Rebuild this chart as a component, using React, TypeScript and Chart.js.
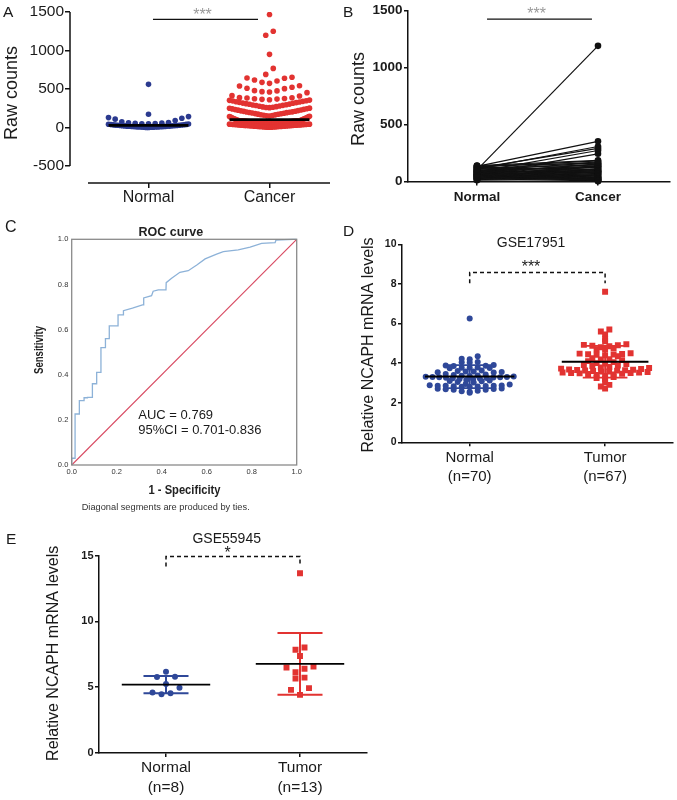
import React, { useEffect, useRef } from 'react';
import { Chart, registerables } from 'chart.js';

Chart.register(...registerables);

const FONT = '"Liberation Sans", Arial, Helvetica, sans-serif';
Chart.defaults.font.family = FONT;
Chart.defaults.color = '#1a1a1a';

const BLUE_A = '#2b3a8f';
const BLUE = '#2f4899';
const RED = '#e23331';
const INK = '#111111';

// ---------- Panel A: raw counts, unpaired ----------
const groupsA = ['Normal', 'Cancer'];
const yTicksA = [-500, 0, 500, 1000, 1500];
const normalA = [561, 173, 142, 129, 121, 109, 90, 73, 66, 62, 57, 55, 51, 49, 47, 45, 43, 41, 38, 37, 35, 33, 31, 30, 29, 27, 26, 24, 23, 22, 21, 19, 18, 17, 16, 15, 14, 12, 12, 11, 9, 8, 8, 7, 6, 5, 4, 3, 2, 1];
const cancerOutliersA = [1467, 1250, 1199, 950, 768, 690, 652, 643, 639, 617, 604, 587, 574, 543, 539, 523, 510, 505, 479, 476, 466, 462, 453, 414, 410, 388];
const cancerBulkA = [
  386, 383, 377, 374, 369, 366, 360, 356, 353, 347, 344, 340, 334, 331, 326,
  323, 317, 315, 310, 304, 302, 296, 293, 288, 286, 279, 277, 271, 268, 263, 261,
  258, 252, 250, 244, 242, 236, 233, 228, 226, 220, 217, 212, 210, 204, 201, 198, 196,
  193, 188, 186, 181, 179, 174, 172, 167, 165, 159, 157, 152, 150, 145, 143, 138, 136, 131,
  128, 124, 121, 118, 114, 111, 107, 104, 101, 98, 95, 92,
  90, 89, 89, 88, 87, 87, 86, 85, 84, 84, 83, 82, 81, 81, 80, 79, 78, 78, 77, 76, 75, 75, 74, 73, 72, 71, 71, 70, 69, 68, 68, 67, 66, 65,
  64, 63, 62, 62, 60, 59, 58, 57, 56, 55, 54, 52, 52, 51, 50, 48, 48, 47, 46, 44, 44, 43, 42, 41, 39, 38, 38, 37, 36, 34, 34, 33,
  32, 30, 30, 29, 28, 27, 26, 25, 24, 23, 22, 21, 20, 19, 18, 17, 16, 15, 14, 13, 12, 11, 10, 9, 8, 7, 6, 5, 4, 3,
];

// ---------- Panel B: raw counts, paired ----------
const groupsB = ['Normal', 'Cancer'];
const yTicksB = [0, 500, 1000, 1500];
const pairedNormalB = [102, 132, 108, 118, 86, 62, 140, 126, 112, 96, 136, 71, 82, 116, 52, 91, 41, 66, 99, 31, 76, 57, 121, 46, 84, 21, 61, 36, 94, 26, 69, 49, 16, 39, 79, 29, 58, 19, 44, 11, 34, 54, 24, 64, 128, 106, 138, 88];
const pairedCancerB = [1190, 352, 307, 290, 272, 243, 186, 181, 171, 166, 161, 154, 149, 146, 139, 134, 131, 127, 121, 114, 109, 104, 98, 95, 91, 87, 84, 79, 76, 71, 66, 61, 56, 49, 46, 41, 36, 31, 26, 19, 16, 11, 6, 2, 22, 13, 30, 8];

// ---------- Panel C: ROC ----------
const rocTicks = [0, 0.2, 0.4, 0.6, 0.8, 1.0];
const rocFpr = [0, 0, 0.015, 0.015, 0.034, 0.034, 0.055, 0.055, 0.07, 0.07, 0.092, 0.092, 0.111, 0.111, 0.13, 0.13, 0.15, 0.15, 0.167, 0.167, 0.206, 0.206, 0.23, 0.23, 0.27, 0.318, 0.32, 0.355, 0.362, 0.385, 0.419, 0.42, 0.444, 0.481, 0.518, 0.556, 0.593, 0.644, 0.674, 0.74, 0.793, 0.844, 0.904, 0.908, 0.985, 1];
const rocTpr = [0, 0.03, 0.03, 0.226, 0.226, 0.285, 0.285, 0.298, 0.298, 0.3, 0.3, 0.36, 0.36, 0.41, 0.41, 0.52, 0.52, 0.56, 0.56, 0.616, 0.616, 0.665, 0.665, 0.684, 0.695, 0.71, 0.74, 0.75, 0.77, 0.776, 0.776, 0.808, 0.827, 0.854, 0.861, 0.886, 0.913, 0.934, 0.945, 0.953, 0.965, 0.982, 0.985, 0.997, 1.0, 1.0];

// ---------- Panel D: GSE17951 ----------
const groupsD = [['Normal', '(n=70)'], ['Tumor', '(n=67)']];
const yTicksD = [0, 2, 4, 6, 8, 10];
const normalD = [6.25, 4.35, 4.22, 4.2, 4.05, 4.04, 4.03, 3.9, 3.88, 3.86, 3.85, 3.78, 3.77, 3.76, 3.75, 3.74, 3.62, 3.6, 3.58, 3.57, 3.55, 3.54, 3.52, 3.45, 3.42, 3.4, 3.38, 3.36, 3.35, 3.32, 3.31, 3.3, 3.3, 3.29, 3.28, 3.27, 3.26, 3.25, 3.24, 3.22, 3.2, 3.18, 3.15, 3.12, 3.1, 3.08, 3.05, 3.02, 2.95, 2.92, 2.88, 2.87, 2.86, 2.85, 2.85, 2.84, 2.83, 2.82, 2.81, 2.8, 2.72, 2.7, 2.69, 2.68, 2.66, 2.65, 2.6, 2.58, 2.55, 2.5];
const tumorD = [7.6, 5.7, 5.6, 5.45, 5.2, 5.1, 4.95, 4.92, 4.9, 4.88, 4.85, 4.8, 4.75, 4.7, 4.7, 4.5, 4.48, 4.46, 4.45, 4.43, 4.42, 4.4, 4.35, 4.25, 4.2, 4.18, 4.15, 4.1, 4.05, 4.0, 3.98, 3.95, 3.9, 3.88, 3.85, 3.8, 3.78, 3.75, 3.72, 3.7, 3.68, 3.66, 3.65, 3.64, 3.63, 3.62, 3.6, 3.58, 3.57, 3.55, 3.53, 3.52, 3.5, 3.5, 3.48, 3.46, 3.45, 3.42, 3.4, 3.35, 3.3, 3.25, 3.2, 3.05, 2.9, 2.82, 2.72];

// ---------- Panel E: GSE55945 ----------
const groupsE = [['Normal', '(n=8)'], ['Tumor', '(n=13)']];
const yTicksE = [0, 5, 10, 15];
const normalE = [6.17, 5.78, 5.8, 5.25, 4.97, 4.6, 4.47, 4.55];
const tumorE = [13.66, 7.85, 8.02, 7.38, 6.4, 6.5, 6.57, 5.73, 5.67, 6.14, 4.93, 4.8, 4.42];

// ---------- helpers ----------
const mean = (a: number[]) => a.reduce((s, v) => s + v, 0) / a.length;
const sd = (a: number[]) => {
  const m = mean(a);
  return Math.sqrt(a.reduce((s, v) => s + (v - m) * (v - m), 0) / (a.length - 1));
};
const median = (a: number[]) => {
  const s = [...a].sort((x, y) => x - y);
  const n = s.length;
  return n % 2 ? s[(n - 1) / 2] : (s[n / 2 - 1] + s[n / 2]) / 2;
};
const f = (size: number, bold = false) => `${bold ? 'bold ' : ''}${size}px ${FONT}`;

function fixBox(size: number) {
  return (s: any) => {
    if (s.isHorizontal()) s.height = size;
    else s.width = size;
    s.paddingTop = 0;
    s.paddingBottom = 0;
    s.paddingLeft = 0;
    s.paddingRight = 0;
  };
}

function axis(o: {
  min: number; max: number; ticks: number[]; size: number; font: any; pad: number; tickLen: number;
  border: boolean; labels?: any[]; fmt?: (v: number) => string; color?: string;
}) {
  return {
    type: 'linear',
    min: o.min,
    max: o.max,
    bounds: 'data',
    afterBuildTicks: (s: any) => { s.ticks = o.ticks.map((v) => ({ value: v })); },
    afterFit: fixBox(o.size),
    border: { display: o.border, color: INK, width: 1.5 },
    grid: { display: true, drawOnChartArea: false, drawTicks: o.tickLen > 0, tickLength: o.tickLen, color: INK, lineWidth: 1.5 },
    ticks: {
      font: o.font,
      color: o.color || '#1a1a1a',
      padding: o.pad,
      autoSkip: false,
      maxRotation: 0,
      minRotation: 0,
      callback: o.labels ? (_v: any, i: number) => o.labels![i] : (v: any) => (o.fmt ? o.fmt(Number(v)) : String(v)),
    },
  };
}

const common = {
  animation: false,
  responsive: false,
  devicePixelRatio: 1,
  events: [],
  plugins: { legend: { display: false }, tooltip: { enabled: false }, title: { display: false } },
};

const lineDs = (data: any[], color: string, width: number) => ({
  type: 'line', data, borderColor: color, borderWidth: width, pointRadius: 0, fill: false, tension: 0, order: 0, clip: false, spanGaps: false,
});
const dotDs = (values: number[], c: number, color: string, style: string, r: number) => ({
  type: 'scatter', data: values.map((v) => ({ x: c, y: v })), backgroundColor: color, pointBackgroundColor: color,
  borderWidth: 0, pointBorderWidth: 0, pointRadius: r, pointStyle: style, order: 1,
});

function sdBars(values: number[], c: number, cap: number) {
  const m = mean(values), s = sd(values);
  return [
    { x: c - cap, y: m + s }, { x: c + cap, y: m + s }, { x: c, y: null },
    { x: c, y: m + s }, { x: c, y: m - s }, { x: c, y: null },
    { x: c - cap, y: m - s }, { x: c + cap, y: m - s },
  ];
}
function meanBar(values: number[], c: number, half: number) {
  const m = mean(values);
  return [{ x: c - half, y: m }, { x: c + half, y: m }];
}

// beeswarm-style layout: rows by pixel bin, spread centre-out, compressed to max width
function swarm(chart: any, values: number[], center: number, spacing: number, bin: number, maxHalf: number) {
  const xs = chart.scales.x, ys = chart.scales.y;
  const pxPerUnit = xs.getPixelForValue(center + 1) - xs.getPixelForValue(center);
  const rows = new Map<number, number[]>();
  values.forEach((v) => {
    const k = Math.round(ys.getPixelForValue(v) / bin);
    if (!rows.has(k)) rows.set(k, []);
    rows.get(k)!.push(v);
  });
  const pts: { x: number; y: number }[] = [];
  rows.forEach((row) => {
    row.sort((a, b) => a - b);
    const n = row.length;
    const step = n > 1 ? Math.min(spacing, (2 * maxHalf) / (n - 1)) : 0;
    const slots = row.map((_, i) => (i - (n - 1) / 2) * step).sort((a, b) => Math.abs(a) - Math.abs(b) || a - b);
    row.forEach((v, i) => pts.push({ x: center + slots[i] / pxPerUnit, y: v }));
  });
  return pts;
}

type TextOpt = { font: string; color?: string; align?: CanvasTextAlign; baseline?: CanvasTextBaseline; rotate?: number; maxWidth?: number };
function drawText(ctx: CanvasRenderingContext2D, s: string, x: number, y: number, o: TextOpt) {
  ctx.save();
  ctx.font = o.font;
  ctx.fillStyle = o.color || '#1a1a1a';
  ctx.textAlign = o.align || 'center';
  ctx.textBaseline = o.baseline || 'alphabetic';
  ctx.translate(x, y);
  if (o.rotate) ctx.rotate(o.rotate);
  if (o.maxWidth) ctx.fillText(s, 0, 0, o.maxWidth);
  else ctx.fillText(s, 0, 0);
  ctx.restore();
}
function seg(ctx: CanvasRenderingContext2D, pts: number[][], color: string, width: number, dash: number[] = []) {
  ctx.save();
  ctx.strokeStyle = color;
  ctx.lineWidth = width;
  ctx.setLineDash(dash);
  ctx.beginPath();
  pts.forEach((p, i) => (i ? ctx.lineTo(p[0], p[1]) : ctx.moveTo(p[0], p[1])));
  ctx.stroke();
  ctx.restore();
}

// ---------- builders ----------
function buildA(el: HTMLCanvasElement) {
  const cancerA = [...cancerOutliersA, ...cancerBulkA];
  const mN = median(normalA), mC = median(cancerA);
  const ch: any = new Chart(el, {
    type: 'scatter',
    data: {
      datasets: [
        lineDs([{ x: 0.67, y: mN }, { x: 1.33, y: mN }], '#000', 2.6),
        lineDs([{ x: 1.67, y: mC }, { x: 2.33, y: mC }], '#000', 2.6),
        dotDs(normalA, 1, BLUE_A, 'circle', 2.8),
        dotDs(cancerA, 2, RED, 'circle', 2.8),
      ] as any,
    },
    options: {
      ...common,
      layout: { padding: { left: 0, top: 12, right: 10, bottom: 0 } },
      scales: {
        x: axis({ min: 0.3512, max: 2.5, ticks: [1, 2], size: 27, font: { size: 16 }, pad: 0, tickLen: 5, border: false, labels: groupsA }),
        y: axis({ min: -720, max: 1500, ticks: yTicksA, size: 70, font: { size: 15.5 }, pad: 1, tickLen: 5, border: false }),
      },
    } as any,
    plugins: [{
      id: 'decoA',
      afterDraw(c: any) {
        const { ctx, chartArea: a, scales: { x, y } } = c;
        seg(ctx, [[a.left, y.getPixelForValue(-500)], [a.left, y.getPixelForValue(1500)]], INK, 1.5);
        seg(ctx, [[x.getPixelForValue(0.5), a.bottom], [x.getPixelForValue(2.5), a.bottom]], INK, 1.5);
        seg(ctx, [[x.getPixelForValue(1.037), y.getPixelForValue(1405)], [x.getPixelForValue(1.905), y.getPixelForValue(1405)]], INK, 1.3);
        drawText(ctx, '***', 202.5, 19.5, { font: f(16), color: '#9a9a9a' });
        drawText(ctx, 'A', 3, 17, { font: f(15.5), align: 'left' });
        drawText(ctx, 'Raw counts', 12, 93, { font: f(18), rotate: -Math.PI / 2, baseline: 'middle' });
      },
    }],
  });
  ch.data.datasets[2].data = swarm(ch, normalA, 1, 7.5, 8, 40);
  ch.data.datasets[3].data = swarm(ch, cancerA, 2, 7.5, 8, 40);
  ch.update('none');
  return ch;
}

function buildB(el: HTMLCanvasElement) {
  const datasets = pairedNormalB.map((n, i) => ({
    type: 'line',
    data: [{ x: 1, y: n }, { x: 2, y: pairedCancerB[i] }],
    borderColor: INK, borderWidth: 1.2, pointRadius: 3.3, pointBackgroundColor: INK, pointBorderWidth: 0,
    fill: false, tension: 0, clip: false,
  }));
  return new Chart(el, {
    type: 'scatter',
    data: { datasets: datasets as any },
    options: {
      ...common,
      layout: { padding: { left: 0, top: 10.5, right: 7, bottom: 0 } },
      scales: {
        x: axis({ min: 0.4298, max: 2.595, ticks: [1, 2], size: 28.5, font: { size: 13.5, weight: 'bold' }, pad: 3.4, tickLen: 4, border: true, labels: groupsB }),
        y: axis({ min: 0, max: 1500, ticks: yTicksB, size: 68, font: { size: 13.5, weight: 'bold' }, pad: 1.5, tickLen: 4, border: true }),
      },
    } as any,
    plugins: [{
      id: 'decoB',
      afterDraw(c: any) {
        const { ctx, scales: { x, y } } = c;
        seg(ctx, [[x.getPixelForValue(1.083), y.getPixelForValue(1425)], [x.getPixelForValue(1.95), y.getPixelForValue(1425)]], INK, 1.3);
        drawText(ctx, '***', 196.7, 19, { font: f(16), color: '#9a9a9a' });
        drawText(ctx, 'B', 3, 17, { font: f(15.5), align: 'left' });
        drawText(ctx, 'Raw counts', 19, 99, { font: f(18), rotate: -Math.PI / 2, baseline: 'middle' });
      },
    }],
  });
}

function buildC(el: HTMLCanvasElement) {
  return new Chart(el, {
    type: 'scatter',
    data: {
      datasets: [
        lineDs(rocFpr.map((v, i) => ({ x: v, y: rocTpr[i] })), '#8db2d8', 1.3),
        lineDs([{ x: 0, y: 0 }, { x: 1, y: 1 }], '#d84a62', 1.1),
      ] as any,
    },
    options: {
      ...common,
      layout: { padding: { left: 0, top: 29.3, right: 43.3, bottom: 0 } },
      scales: {
        x: axis({ min: 0, max: 1, ticks: rocTicks, size: 55, font: { size: 7.5 }, pad: 2.2, tickLen: 0, border: false, fmt: (v) => v.toFixed(1), color: '#333' }),
        y: axis({ min: 0, max: 1, ticks: rocTicks, size: 71.7, font: { size: 7.5 }, pad: 3.4, tickLen: 0, border: false, fmt: (v) => v.toFixed(1), color: '#333' }),
      },
    } as any,
    plugins: [{
      id: 'decoC',
      afterDraw(c: any) {
        const { ctx, chartArea: a } = c;
        ctx.save();
        ctx.strokeStyle = '#8a8a8a';
        ctx.lineWidth = 1.3;
        ctx.strokeRect(a.left, a.top, a.right - a.left, a.bottom - a.top);
        ctx.restore();
        drawText(ctx, 'C', 5, 21.7, { font: f(16), align: 'left' });
        drawText(ctx, 'ROC curve', 170.8, 26, { font: f(12.5, true), color: '#222' });
        drawText(ctx, 'Sensitivity', 40, 140, { font: f(12.5, true), rotate: -Math.PI / 2, baseline: 'middle', maxWidth: 48, color: '#222' });
        drawText(ctx, '1 - Specificity', 184.5, 280, { font: f(13, true), baseline: 'middle', maxWidth: 72, color: '#222' });
        drawText(ctx, 'Diagonal segments are produced by ties.', 165.7, 297.5, { font: f(9.5), baseline: 'middle', maxWidth: 168, color: '#333' });
        drawText(ctx, 'AUC = 0.769', 138.3, 209.3, { font: f(13), align: 'left' });
        drawText(ctx, '95%CI = 0.701-0.836', 138.3, 224, { font: f(13), align: 'left' });
      },
    }],
  });
}

function buildD(el: HTMLCanvasElement) {
  const ch: any = new Chart(el, {
    type: 'scatter',
    data: {
      datasets: [
        lineDs(meanBar(normalD, 1, 0.33), '#000', 2),
        lineDs(meanBar(tumorD, 2, 0.32), '#000', 2),
        lineDs(sdBars(normalD, 1, 0.165), BLUE, 1.8),
        lineDs(sdBars(tumorD, 2, 0.165), RED, 1.8),
        dotDs(normalD, 1, BLUE, 'circle', 3),
        dotDs(tumorD, 2, RED, 'rect', 4.2),
      ] as any,
    },
    options: {
      ...common,
      layout: { padding: { left: 0, top: 34.3, right: 3, bottom: 0 } },
      scales: {
        x: axis({ min: 0.5, max: 2.5, ticks: [1, 2], size: 77.7, font: { size: 15, lineHeight: 1.27 }, pad: 2.2, tickLen: 4, border: true, labels: groupsD }),
        y: axis({ min: 0, max: 10, ticks: yTicksD, size: 62, font: { size: 10.5, weight: 'bold' }, pad: 1.5, tickLen: 4, border: true }),
      },
    } as any,
    plugins: [{
      id: 'decoD',
      afterDraw(c: any) {
        const { ctx, scales: { x, y } } = c;
        const x1 = x.getPixelForValue(1), x2 = x.getPixelForValue(2);
        const yt = y.getPixelForValue(8.57), yb = y.getPixelForValue(8.03);
        seg(ctx, [[x1, yb], [x1, yt], [x2, yt], [x2, yb]], INK, 1.5, [4, 3]);
        drawText(ctx, '***', 191, 62, { font: f(16) });
        drawText(ctx, 'GSE17951', 191, 37.3, { font: f(14) });
        drawText(ctx, 'D', 3, 26, { font: f(15.5), align: 'left' });
        drawText(ctx, 'Relative NCAPH mRNA levels', 28.3, 135, { font: f(16), rotate: -Math.PI / 2, baseline: 'middle' });
      },
    }],
  });
  ch.data.datasets[4].data = swarm(ch, normalD, 1, 8, 4, 44);
  ch.data.datasets[5].data = swarm(ch, tumorD, 2, 8.5, 4, 44);
  ch.update('none');
  return ch;
}

function buildE(el: HTMLCanvasElement) {
  const ch: any = new Chart(el, {
    type: 'scatter',
    data: {
      datasets: [
        lineDs(meanBar(normalE, 1, 0.33), '#000', 1.7),
        lineDs(meanBar(tumorE, 2, 0.33), '#000', 1.7),
        lineDs(sdBars(normalE, 1, 0.168), BLUE, 2),
        lineDs(sdBars(tumorE, 2, 0.168), RED, 2),
        dotDs(normalE, 1, BLUE, 'circle', 3),
        dotDs(tumorE, 2, RED, 'rect', 4.2),
      ] as any,
    },
    options: {
      ...common,
      layout: { padding: { left: 0, top: 35.7, right: 33, bottom: 0 } },
      scales: {
        x: axis({ min: 0.5, max: 2.5, ticks: [1, 2], size: 47, font: { size: 15.5, lineHeight: 1.25 }, pad: 1.5, tickLen: 4, border: true, labels: groupsE }),
        y: axis({ min: 0, max: 15, ticks: yTicksE, size: 99, font: { size: 11, weight: 'bold' }, pad: 1.5, tickLen: 4, border: true }),
      },
    } as any,
    plugins: [{
      id: 'decoE',
      afterDraw(c: any) {
        const { ctx, scales: { x, y } } = c;
        const x1 = x.getPixelForValue(1), x2 = x.getPixelForValue(2);
        const yt = y.getPixelForValue(14.93), yb = y.getPixelForValue(14.17);
        seg(ctx, [[x1, yb], [x1, yt], [x2, yt], [x2, yb]], INK, 1.5, [4, 3]);
        drawText(ctx, '*', 227.5, 38, { font: f(16) });
        drawText(ctx, 'GSE55945', 226.7, 22.7, { font: f(14) });
        drawText(ctx, 'E', 6, 24, { font: f(15.5), align: 'left' });
        drawText(ctx, 'Relative NCAPH mRNA levels', 54, 133.3, { font: f(16), rotate: -Math.PI / 2, baseline: 'middle' });
      },
    }],
  });
  ch.data.datasets[4].data = swarm(ch, normalE, 1, 9, 10, 30);
  ch.data.datasets[5].data = swarm(ch, tumorE, 2, 9, 10, 30);
  ch.update('none');
  return ch;
}

export default function App() {
  const rA = useRef<HTMLCanvasElement>(null);
  const rB = useRef<HTMLCanvasElement>(null);
  const rC = useRef<HTMLCanvasElement>(null);
  const rD = useRef<HTMLCanvasElement>(null);
  const rE = useRef<HTMLCanvasElement>(null);

  useEffect(() => {
    const charts = [
      buildA(rA.current!),
      buildB(rB.current!),
      buildC(rC.current!),
      buildD(rD.current!),
      buildE(rE.current!),
    ];
    return () => charts.forEach((c) => c.destroy());
  }, []);

  const pos = (left: number, top: number): React.CSSProperties => ({ position: 'absolute', left, top, display: 'block' });

  return (
    <div style={{ position: 'absolute', left: 0, top: 0, width: 677, height: 800, background: '#ffffff', overflow: 'hidden' }}>
      <canvas ref={rA} width={340} height={210} style={pos(0, 0)} />
      <canvas ref={rB} width={337} height={210} style={pos(340, 0)} />
      <canvas ref={rC} width={340} height={310} style={pos(0, 210)} />
      <canvas ref={rD} width={337} height={310} style={pos(340, 210)} />
      <canvas ref={rE} width={400} height={280} style={pos(0, 520)} />
    </div>
  );
}
